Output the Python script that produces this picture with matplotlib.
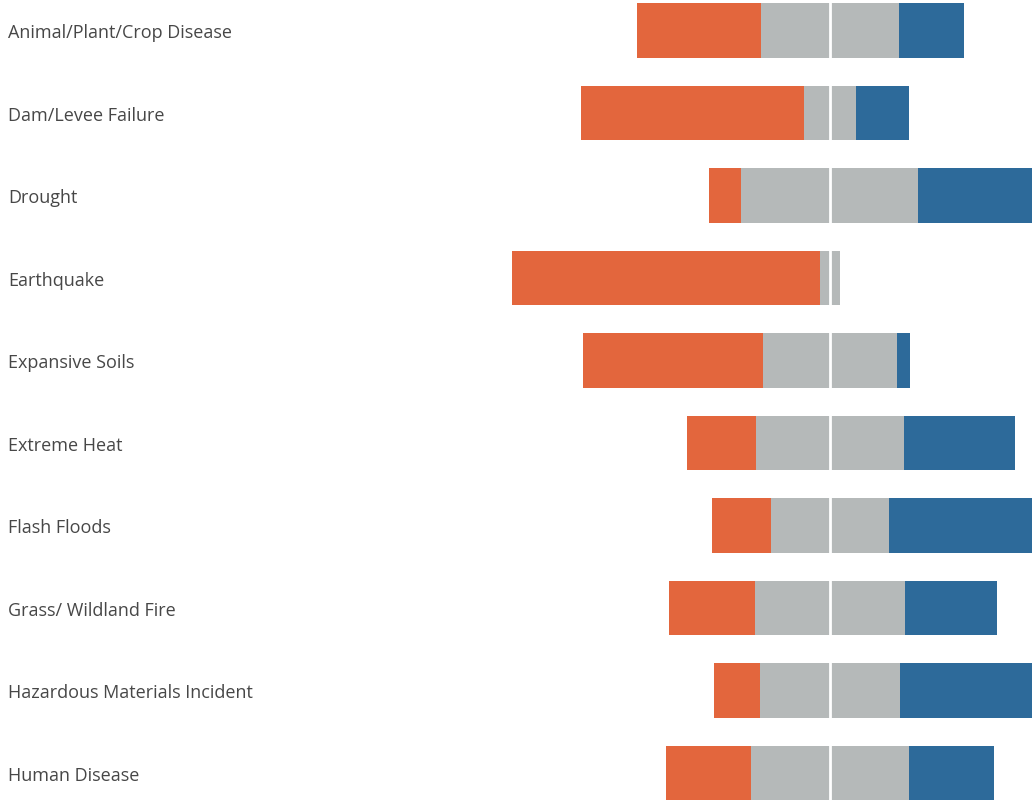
import matplotlib.pyplot as plt
import numpy as np

# hazard categories, top to bottom
hazards = ['Animal/Plant/Crop Disease', 'Dam/Levee Failure', 'Drought', 'Earthquake',
           'Expansive Soils', 'Extreme Heat', 'Flash Floods', 'Grass/ Wildland Fire',
           'Hazardous Materials Incident', 'Human Disease']

# percent of responses: low (orange), neutral (gray), high (blue)
low = [38, 68, 10, 94, 55, 21, 18, 26, 14, 26]
neutral = [42, 16, 54, 6, 41, 45, 36, 46, 43, 48]
high = [20, 16, 36, 0, 4, 34, 46, 28, 43, 26]

orange = '#E3663D'
gray = '#B5B9B9'
blue = '#2D6A9A'

low = np.array(low)
neutral = np.array(neutral)
high = np.array(high)
y = np.arange(len(hazards))

fig = plt.figure(figsize=(10.32, 8.03), dpi=100)
ax = fig.add_axes([0, 0, 1, 1])

# neutral split around zero
left_low = -neutral / 2 - low
ax.barh(y, low, left=left_low, height=0.66, color=orange)
ax.barh(y, neutral, left=-neutral / 2, height=0.66, color=gray)
ax.barh(y, high, left=neutral / 2, height=0.66, color=blue)

ax.axvline(0, color='white', lw=2, zorder=5)

for i, name in enumerate(hazards):
    ax.text(0.008, i + 0.02, name, transform=ax.get_yaxis_transform(), va='center', ha='left',
            fontsize=13, color='#474747', family=['Open Sans', 'DejaVu Sans'])

ax.set_xlim(-253.4, 61.7)
ax.set_ylim(9.351, -0.381)
ax.axis('off')

fig.savefig('out.png', dpi=100, facecolor='white')
